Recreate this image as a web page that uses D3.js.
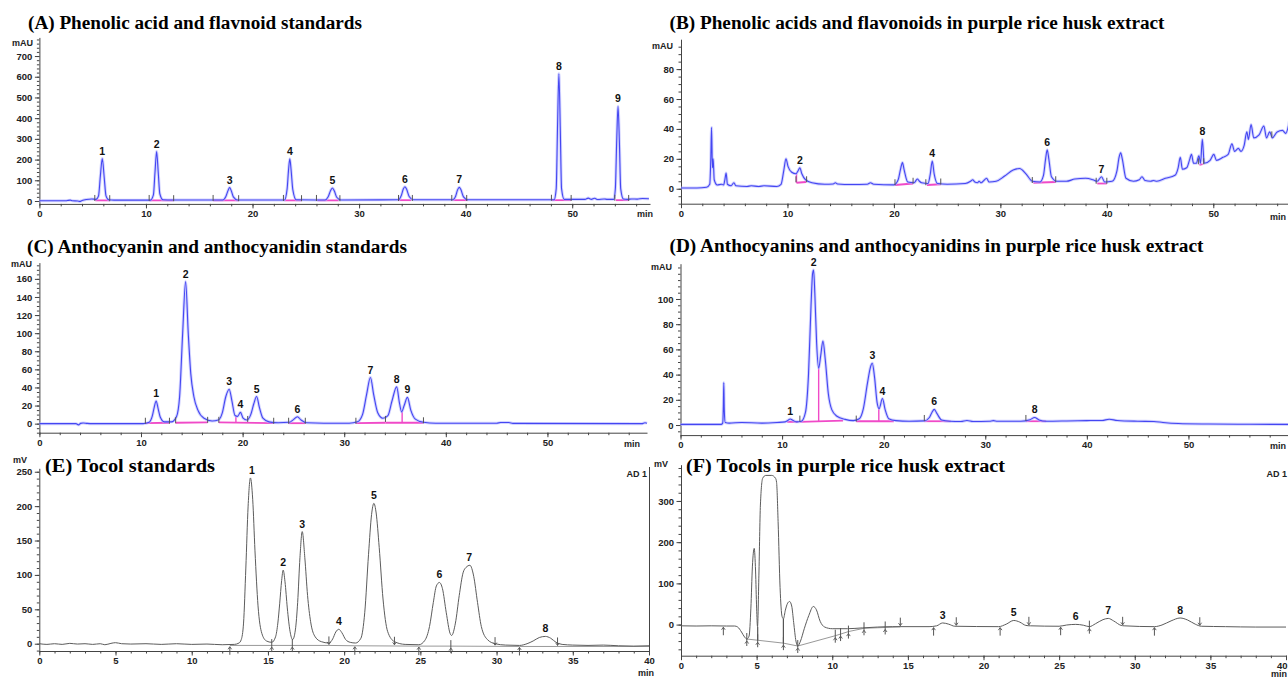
<!DOCTYPE html>
<html>
<head>
<meta charset="utf-8">
<script src="https://cdn.jsdelivr.net/npm/d3@7"></script>
<style>
  body { margin: 0; background: #fff; }
  svg text { font-family: "Liberation Sans", Arial, sans-serif; }
  .title { font-family: "Liberation Serif", "Times New Roman", serif; font-weight: bold; font-size: 18.5px; fill: #000; }
  .tick text { font-weight: bold; font-size: 9.5px; fill: #222; }
  .tick line, .domain { stroke: #444; }
  .unit { font-weight: bold; font-size: 9px; fill: #222; }
  .peak { font-weight: bold; font-size: 10.5px; fill: #111; text-anchor: middle; }
</style>
</head>
<body>
<svg id="chart" width="1288" height="677"></svg>
<script>
// ---- data: [minutes, signal] ----
const traceA = [
  [0,1],[2.5,1],[2.7,3],[2.9,4],[3.1,1],[3.6,0],[3.8,-2],[4.0,2],[4.4,7],[4.9,10],[5.3,8],[5.55,25],[5.72,120],[5.9,205],[6.08,115],[6.25,25],[6.5,6],[7,4],
  [10.4,4],[10.7,30],[10.85,140],[11.0,239],[11.15,140],[11.3,35],[11.6,6],[12.5,5],
  [17.2,5],[17.5,22],[17.7,50],[17.85,65],[18.0,50],[18.2,20],[18.6,5],
  [23.0,5],[23.25,60],[23.38,150],[23.5,204],[23.62,150],[23.78,55],[24.1,6],
  [26.8,5],[27.1,20],[27.32,50],[27.5,63],[27.68,48],[27.9,18],[28.3,5],
  [33.7,6],[33.95,25],[34.15,58],[34.3,69],[34.45,58],[34.7,22],[35.1,6],
  [38.8,6],[39.05,22],[39.25,55],[39.4,66],[39.55,55],[39.8,20],[40.2,6],
  [46.5,6],[48.3,6],[48.5,60],[48.62,350],[48.75,614],[48.88,350],[49.0,60],[49.25,8],
  [51.2,8],[51.5,14],[51.8,8],[52.1,13],[52.4,7],[53.0,10],[53.3,8],[53.9,8],[54.05,60],[54.17,280],[54.3,457],[54.43,280],[54.55,60],[54.8,10],[55.2,8],[55.6,10],[56.1,9],[56.6,12],[57.2,11]
];
const peaksA = [["1",5.9,205],["2",11.0,239],["3",17.85,65],["4",23.5,204],["5",27.5,63],["6",34.3,69],["7",39.4,66],["8",48.75,614],["9",54.3,457]];
const pinkA = [[5.25,3,6.6,3],[10.3,3,12.6,3],[16.3,3,18.7,3],[23.0,3,24.6,3],[26.1,3,28.1,3],[33.7,4,34.9,4],[38.8,4,40.2,4],[48.1,4,49.9,4],[54.1,4,55.3,4]];
const pinkVA = [];
const marksA = [[5.2,5],[6.6,4],[10.3,5],[12.6,4],[16.3,5],[18.7,4],[22.9,5],[24.6,4],[26.0,5],[28.2,4],[33.7,5],[35.0,5],[38.7,5],[40.1,5],[48.05,6],[49.9,5],[54.0,6],[55.3,5]];
const yTicksA = [0,100,200,300,400,500,600,700];
const xTicksA = [0,10,20,30,40,50];

const traceB = [
  [0,0.5],[1.5,0.5],[2.4,1],[2.7,3],[2.8,20],[2.87,41],[2.95,14],[3.02,20],[3.12,6],[3.4,2.5],[3.8,3],[4.0,2.5],[4.12,6],[4.24,10.5],[4.36,3],[4.7,2],[4.97,4],[5.15,2],
  [6.2,1.5],[6.6,2],[7.3,1.5],[7.8,2],[9.0,1.5],[9.4,3],[9.65,12],[9.86,20],[10.05,15],[10.4,11],[10.8,10],[11.0,12],[11.16,14],[11.35,10],[11.7,6],[12.3,4],
  [13.5,3],[14.3,3.2],[14.5,4],[14.7,3.2],[16,2.8],[17.5,3],[17.8,4],[18.1,3],[20.0,2.6],[20.4,6],[20.65,14],[20.8,17.5],[20.95,13],[21.3,4.5],[21.9,4],[22.2,6.5],[22.4,5],[22.6,4],
  [23.2,3.5],[23.42,10],[23.6,18.5],[23.78,10],[24.1,3.5],[25,3],[26.7,3.5],[27.2,5],[27.4,6],[27.6,4.5],[27.85,4],[28.0,5],[28.2,4],[28.45,5.5],[28.7,7],[28.95,4.5],
  [29.6,5],[30.4,8.5],[31.2,12.5],[31.8,13.5],[32.4,10],[33.0,5],[33.7,4.5],[34.05,9],[34.25,20],[34.4,26],[34.55,20],[34.8,8],[35.3,5],[36.2,5],[37.0,6.5],[38.0,7],[38.7,6],
  [39.1,5],[39.5,8],[39.8,4.5],[40.5,5],[40.95,12],[41.15,21],[41.3,24],[41.45,20],[41.8,7],[42.5,5],[43.05,6],[43.3,8],[43.6,5.5],[44.1,5],[44.4,5.5],[44.7,5],
  [45.5,7],[46.4,9],[46.7,14],[46.9,21],[47.1,13],[47.5,14],[47.8,20],[47.95,23],[48.15,17],[48.4,17],[48.65,22],[48.8,17],[48.97,33],[49.15,17],[49.7,19],[50.05,23],[50.3,19],
  [50.9,21],[51.4,23],[51.75,30],[52.0,25],[52.35,27],[52.6,25],[52.9,29],[53.15,38],[53.3,33],[53.55,43],[53.8,34],[54.3,36],[54.75,42],[55.0,34],[55.3,38],[55.55,34],[56.0,38],[56.5,39],[56.8,37],[57.2,47]
];
const peaksB = [["2",11.16,14],["4",23.6,18.5],["6",34.4,26],["7",39.5,8],["8",48.97,33]];
const pinkB = [[10.85,4,11.75,4.5],[20.1,2.5,21.8,3.5],[23.1,2.5,24.4,3],[33.1,4,35.2,4.5],[39.1,3.5,40.0,3.5],[48.7,16,49.0,16.5]];
const pinkVB = [[10.85,4,10]];
const marksB = [[10.8,5],[11.8,5],[20.1,3],[21.8,4],[23.0,3],[24.4,3.5],[33.0,4.5],[35.2,5],[39.0,4],[40.0,4],[48.6,17],[49.1,17],[55.5,35]];
const yTicksB = [0,20,40,60,80];
const xTicksB = [0,10,20,30,40,50];

const traceC = [
  [0,0],[3.6,0],[3.85,-1.3],[4.05,0.3],[4.3,0.8],[4.7,0.3],[5.2,0],[10.2,0],[10.8,1.5],[11.1,8],[11.3,18],[11.49,25],[11.68,17],[11.9,7],[12.3,2],[13.0,2],
  [13.5,8],[13.8,30],[14.1,100],[14.39,157],[14.65,100],[14.9,55],[15.2,30],[15.6,15],[16.2,6],[17.0,3],[17.6,4],[18.0,12],[18.35,30],[18.68,38],[18.95,25],[19.25,9],
  [19.5,8],[19.79,12.5],[20.05,6],[20.4,4],[20.8,10],[21.1,22],[21.38,30],[21.65,18],[22.0,6],[22.6,2],[23.5,1],[24.6,1.5],[25.0,4.5],[25.39,7.7],[25.75,4],[26.3,1],
  [28,0.5],[30.5,0.5],[31.3,2],[31.8,10],[32.2,32],[32.58,51],[32.9,32],[33.3,12],[33.8,6],[34.3,9],[34.7,25],[35.16,40.6],[35.45,22],[35.65,13],[35.9,20],[36.22,29],
  [36.55,15],[37.0,5],[37.8,1.5],[39,0.5],[45.0,0.5],[45.4,1.2],[46.2,1.2],[46.6,0.3],[59.3,0],[59.6,1],[59.8,0.5]
];
const peaksC = [["1",11.49,25],["2",14.39,157],["3",18.68,38],["4",19.79,12.5],["5",21.38,30],["6",25.39,7.7],["7",32.58,51],["8",35.16,40.6],["9",36.22,29]];
const pinkC = [[10.43,0.5,12.8,1],[13.41,1,16.56,1.5],[17.66,1.5,23.06,0.5],[24.53,0.5,26.17,0.5],[31.15,0.5,34.06,1],[34.06,1,37.8,1]];
const pinkVC = [[19.34,1.5,8],[35.7,1,13]];
const marksC = [[10.43,1],[12.8,1],[13.41,1.5],[16.56,2],[17.66,2],[20.5,3],[23.06,1],[24.53,1],[26.17,1],[31.15,1],[34.06,3],[37.8,1.5]];
const yTicksC = [0,20,40,60,80,100,120,140,160];
const xTicksC = [0,10,20,30,40,50];

const traceD = [
  [0,0.5],[4.0,0.5],[4.15,1.5],[4.22,15],[4.26,33.6],[4.31,12],[4.4,2],[4.8,1.5],[6,2],[8,1.5],[9.5,2],[10.3,2.5],[10.6,3.8],[10.8,4.8],[11.05,3.8],[11.4,2.5],[11.9,3],
  [12.3,10],[12.6,40],[12.85,95],[13.0,120],[13.1,123],[13.22,105],[13.4,65],[13.6,45],[13.8,55],[14.02,66.7],[14.25,52],[14.55,25],[14.9,12],[15.4,7],[16.2,4.5],[17.0,3.5],
  [17.6,5],[18.0,13],[18.4,33],[18.7,46],[18.88,49],[19.1,38],[19.35,18],[19.55,13],[19.88,21],[20.15,12],[20.5,5],[21.2,3.5],[22.5,3],[24.0,3.3],[24.5,6],[24.75,10],
  [24.98,12.4],[25.25,9],[25.7,4],[26.5,3],[27.6,2.8],[28.2,3.6],[28.8,2.8],[30.4,3],[30.8,3.5],[31.2,3],[33.5,3],[34.4,4.2],[34.86,6],[35.3,4],[36,3],[38,3.2],[40,3.5],
  [41.5,3.6],[42.2,4.6],[43.0,3.6],[45,3],[46.6,2.8],[47.5,2],[49,1.2],[52,0.8],[56,0.6],[59.8,0.5]
];
const peaksD = [["1",10.8,4.8],["2",13.1,123],["3",18.88,49],["4",19.88,21],["6",24.98,12.4],["8",34.86,6]];
const pinkD = [[10.5,2.5,11.6,2.5],[11.75,2.5,16.0,3.5],[17.3,3,21.0,3],[24.0,3,26.6,3],[34.0,3,36.0,3]];
const pinkVD = [[13.6,3,45],[19.52,3,13]];
const marksD = [[11.75,3.5],[17.3,3.5],[24.0,4],[34.0,4]];
const yTicksD = [0,20,40,60,80,100];
const xTicksD = [0,10,20,30,40,50];

const traceE = [
  [0,0],[0.5,-1],[1,0],[1.5,-1],[2,0.5],[2.5,-0.5],[3,0],[3.5,-1],[4,0],[4.3,-1.5],[4.7,0.5],[5.0,1.5],[5.4,0],[6,-0.5],[7,0],[8,-1],[9,0],[10,-1],[11,-0.5],[12,-1.5],[12.8,-1],
  [13.1,1],[13.25,6],[13.4,30],[13.55,110],[13.7,200],[13.85,241],[14.0,210],[14.15,135],[14.35,55],[14.6,15],[14.9,4],[15.25,2],
  [15.5,10],[15.65,30],[15.77,58],[15.9,92],[16.0,107],[16.12,90],[16.27,52],[16.45,18],[16.62,6],
  [16.8,20],[16.95,60],[17.1,125],[17.25,163],[17.42,125],[17.6,70],[17.8,32],[18.1,10],[18.5,3],[19.0,1],
  [19.25,7],[19.45,17],[19.65,21],[19.85,16],[20.1,6],[20.4,2],[20.75,1],
  [21.1,8],[21.35,45],[21.6,130],[21.8,188],[21.95,204],[22.1,190],[22.3,140],[22.55,65],[22.85,18],[23.3,3],[24.0,-1],[24.9,-1.5],
  [25.3,5],[25.6,25],[25.85,60],[26.05,84],[26.25,89],[26.45,80],[26.7,45],[26.95,15],[27.05,12],
  [27.3,30],[27.55,70],[27.8,103],[28.0,111],[28.25,114],[28.5,98],[28.75,60],[29.0,25],[29.4,6],[29.9,0],[30.6,-2],[31.5,-2.5],
  [32.0,0],[32.4,4],[32.8,9],[33.2,10.6],[33.55,8],[33.9,2],[34.3,-1],[35,-2],[36,-2.5],[37,-2],[38,-3],[39,-3.5],[40,-3]
];
const peaksE = [["1",13.95,241],["2",16.0,107],["3",17.25,163],["4",19.65,21],["5",21.95,204],["6",26.25,89],["7",28.2,114],["8",33.2,10.6]];
const baseE = [[12.5,-2.5],[19.0,-2.5],[20.7,-3],[24.9,-3.5],[27.0,-3.5],[31.5,-4],[40,-4]];
const dropE = [];
const marksE = [[12.5,-3,"u"],[15.25,-2,"b"],[16.6,-2,"b"],[19.0,-2.5,"d"],[20.7,-3,"u"],[23.3,-3,"d"],[24.9,-3.5,"u"],[27.0,-3.5,"b"],[29.9,-3.5,"d"],[31.5,-4,"u"],[34.0,-4,"d"]];
const yTicksE = [0,50,100,150,200,250];
const xTicksE = [0,5,10,15,20,25,30,35,40];

const traceF = [
  [0,-3],[1,-3.5],[2,-3],[3.0,-3.5],[3.55,-3.5],[3.75,-6],[4.0,-18],[4.2,-30],[4.35,-35],[4.5,-28],[4.62,40],[4.72,140],[4.84,185],[4.93,130],[5.0,40],[5.06,-5],
  [5.15,120],[5.25,290],[5.4,355],[5.6,362],[6.0,362],[6.25,355],[6.32,345],[6.42,250],[6.55,90],[6.68,20],[6.77,14],[6.9,35],[7.05,52],[7.18,56],[7.32,45],[7.45,5],
  [7.6,-40],[7.72,-52],[7.9,-40],[8.15,-10],[8.45,22],[8.75,44],[8.95,36],[9.2,8],[9.5,-6],[10,-10],[11,-10],[12,-8],[13,-6],[14,-5],[16.4,-5],[16.9,-3],[17.3,4],
  [17.7,1],[18.1,-4],[21.0,-5],[21.5,1],[22.0,10],[22.4,6],[22.8,-2],[23.1,-3],[25.0,-4],[25.5,-1],[26.1,0.5],[26.6,-1.5],[27.0,-5],[27.4,2],[27.9,12],[28.25,15],
  [28.6,9],[29.1,-2],[29.3,-3],[31.3,-5],[31.8,-1],[32.4,9],[33.0,16],[33.5,11],[34.0,1],[34.4,-4],[36,-5],[38,-6],[40,-6]
];
const peaksF = [["3",17.3,4],["5",22.0,10],["6",26.1,2],["7",28.25,15],["8",33.0,16]];
const baseF = [[4.35,-35],[5.07,-38],[6.77,-45],[7.72,-52],[10.2,-27],[10.55,-23],[11.07,-17],[12.1,-9],[13.5,-7],[14.5,-5.5]];
const dropF = [[5.07,-38,-5],[6.77,-45,14]];
const marksF = [[2.8,-4,"u"],[4.35,-35,"b"],[5.07,-38,"b"],[6.77,-45,"b"],[7.72,-52,"b"],[10.2,-27,"b"],[10.55,-23,"b"],[11.07,-17,"b"],[12.1,-9,"b"],[13.5,-7,"b"],
  [14.5,-5,"d"],[16.7,-5,"u"],[18.2,-4,"d"],[21.1,-5,"u"],[23.0,-3,"d"],[25.1,-4,"u"],[27.0,-5,"b"],[29.2,-3,"d"],[31.3,-5,"u"],[34.3,-4,"d"]];
const yTicksF = [0,100,200,300];
const xTicksF = [0,5,10,15,20,25,30,35,40];

// ---- drawing ----
const svg = d3.select("#chart");

function drawPanel(p) {
  const x = d3.scaleLinear().domain(p.xDom).range(p.xRange);
  const y = d3.scaleLinear().domain(p.yDom).range(p.yRange);
  const g = svg.append("g");
  const yb = p.yRange[0], xl = p.xRange[0];

  // axes: minor then major
  g.append("g").attr("transform", `translate(0,${yb})`)
    .call(d3.axisBottom(x).tickValues(p.xMinor).tickSize(2.5).tickFormat(""))
    .call(s => s.select(".domain").remove());
  const xa = g.append("g").attr("transform", `translate(0,${yb})`)
    .call(d3.axisBottom(x).tickValues(p.xTicks).tickSize(4.5).tickSizeOuter(0).tickPadding(2));
  if (p.lastEnd) {
    // keep the last tick label inside the picture
    xa.selectAll(".tick:last-of-type text").attr("text-anchor", "end").attr("dx", "0.1em");
  }
  g.append("g").attr("transform", `translate(${xl},0)`)
    .call(d3.axisLeft(y).tickValues(p.yMinor).tickSize(2.5).tickFormat(""))
    .call(s => s.select(".domain").remove());
  g.append("g").attr("transform", `translate(${xl},0)`)
    .call(d3.axisLeft(y).tickValues(p.yTicks).tickSize(4.5).tickSizeOuter(0).tickPadding(2.5));

  g.append("text").attr("class", "unit").attr("x", p.unit[0]).attr("y", p.unit[1])
    .attr("text-anchor", "end").attr("font-size", p.unitSize || 9).text(p.unitText);
  g.append("text").attr("class", "unit").attr("x", p.min[0]).attr("y", p.min[1])
    .attr("text-anchor", p.min[2] || "middle").attr("font-size", p.minSize || 9).text("min");

  const line = d3.line().x(d => x(d[0])).y(d => y(d[1])).curve(d3.curveMonotoneX);

  if (p.blue) {
    (p.pink || []).forEach(s => g.append("line")
      .attr("x1", x(s[0])).attr("y1", y(s[1])).attr("x2", x(s[2])).attr("y2", y(s[3]))
      .attr("stroke", "#f04ac8").attr("stroke-width", 1.8));
    (p.pinkV || []).forEach(s => g.append("line")
      .attr("x1", x(s[0])).attr("y1", y(s[1])).attr("x2", x(s[0])).attr("y2", y(s[2]))
      .attr("stroke", "#f04ac8").attr("stroke-width", 1.4));
    g.append("path").datum(p.trace).attr("d", line).attr("fill", "none")
      .attr("stroke", "#b4b6ff").attr("stroke-width", 3).attr("stroke-opacity", 0.6);
    g.append("path").datum(p.trace).attr("d", line).attr("fill", "none")
      .attr("stroke", "#4446f2").attr("stroke-width", 1.1);
    (p.marks || []).forEach(m => g.append("line")
      .attr("x1", x(m[0])).attr("x2", x(m[0])).attr("y1", y(m[1]) + 1).attr("y2", y(m[1]) - 5)
      .attr("stroke", "#555").attr("stroke-width", 1));
  } else {
    // grey detector trace with integration baseline and event arrows
    g.append("path").datum(p.base).attr("d", d3.line().x(d => x(d[0])).y(d => y(d[1])))
      .attr("fill", "none").attr("stroke", "#999").attr("stroke-width", 1);
    (p.drops || []).forEach(s => g.append("line")
      .attr("x1", x(s[0])).attr("x2", x(s[0])).attr("y1", y(s[1])).attr("y2", y(s[2]))
      .attr("stroke", "#555").attr("stroke-width", 1.2));
    g.append("path").datum(p.trace).attr("d", line).attr("fill", "none")
      .attr("stroke", "#5c5c5c").attr("stroke-width", 1);
    p.marks.forEach(m => {
      const mx = x(m[0]), my = y(m[1]);
      let a, b, head;
      if (m[2] === "u") { a = my + 1; b = my + 9; head = a; }
      else if (m[2] === "d") { a = my - 9; b = my - 1; head = b; }
      else { a = my - 6; b = my + 7; head = my + 2; }
      g.append("line").attr("x1", mx).attr("x2", mx).attr("y1", a).attr("y2", b)
        .attr("stroke", "#555").attr("stroke-width", 1);
      const dir = m[2] === "d" ? 1 : -1;
      g.append("path").attr("d", `M${mx - 1.8},${head - dir * 2.5}L${mx},${head}L${mx + 1.8},${head - dir * 2.5}`)
        .attr("fill", "none").attr("stroke", "#555").attr("stroke-width", 0.9);
    });
  }

  p.peaks.forEach(k => g.append("text").attr("class", "peak")
    .attr("x", x(k[1])).attr("y", y(k[2]) - 4).text(k[0]));

  g.append("text").attr("class", "title").attr("x", p.title[0]).attr("y", p.title[1])
    .attr("textLength", p.title[2]).attr("lengthAdjust", "spacingAndGlyphs").text(p.titleText);

  if (p.ad) {
    g.append("text").attr("class", "unit").attr("x", p.ad[0]).attr("y", p.ad[1])
      .attr("text-anchor", "end").attr("font-size", 8.5).text("AD 1");
  }
  return { x, y, g };
}

drawPanel({
  titleText: "(A) Phenolic acid and flavnoid standards", title: [28, 29, 334],
  xDom: [0, 57.3], xRange: [39.4, 650], yDom: [-14, 790], yRange: [203.9, 37.4],
  xTicks: xTicksA, xMinor: d3.range(0, 57, 2), yTicks: yTicksA, yMinor: d3.range(-0, 790, 20),
  unit: [33, 46], unitText: "mAU", min: [645, 217],
  blue: true, trace: traceA, peaks: peaksA, pink: pinkA, pinkV: pinkVA, marks: marksA
});
drawPanel({
  titleText: "(B) Phenolic acids and flavonoids in purple rice husk extract", title: [669.5, 28.5, 495],
  xDom: [0, 57.3], xRange: [681, 1291], yDom: [-10, 100], yRange: [203.7, 39.2],
  xTicks: xTicksB, xMinor: d3.range(0, 57, 2), yTicks: yTicksB, yMinor: d3.range(-10, 100, 5),
  unit: [673, 49], unitText: "mAU", min: [1286, 220, "end"],
  blue: true, trace: traceB, peaks: peaksB, pink: pinkB, pinkV: pinkVB, marks: marksB
});
drawPanel({
  titleText: "(C) Anthocyanin and anthocyanidin standards", title: [27, 253, 380],
  xDom: [0, 59.8], xRange: [39.4, 647], yDom: [-10, 178], yRange: [432.7, 262.6],
  xTicks: xTicksC, xMinor: d3.range(0, 59, 2), yTicks: yTicksC, yMinor: d3.range(-10, 178, 5),
  unit: [32, 267], unitText: "mAU", min: [632, 447],
  blue: true, trace: traceC, peaks: peaksC, pink: pinkC, pinkV: pinkVC, marks: marksC
});
drawPanel({
  titleText: "(D) Anthocyanins and anthocyanidins in purple rice husk extract", title: [669.5, 252, 534],
  xDom: [0, 59.8], xRange: [680.5, 1288], yDom: [-8, 128], yRange: [435.1, 263.7],
  xTicks: xTicksD, xMinor: d3.range(0, 59, 2), yTicks: yTicksD, yMinor: d3.range(-5, 128, 5),
  unit: [672, 270], unitText: "mAU", min: [1286, 449, "end"],
  blue: true, trace: traceD, peaks: peaksD, pink: pinkD, pinkV: pinkVD, marks: marksD
});
drawPanel({
  titleText: "(E) Tocol standards", title: [45, 471.5, 170],
  xDom: [0, 40], xRange: [39.3, 649], yDom: [-10.6, 255], yRange: [651, 468.3],
  xTicks: xTicksE, xMinor: d3.range(0, 40.5, 1), yTicks: yTicksE, yMinor: d3.range(-10, 255, 10),
  unit: [27, 463], unitText: "mV", unitSize: 7.5, min: [646, 676], minSize: 6.5,
  blue: false, trace: traceE, peaks: peaksE, base: baseE, drops: dropE, marks: marksE, ad: [647, 477]
});
// right frame line of panel E
svg.append("line").attr("x1", 649.5).attr("x2", 649.5).attr("y1", 467).attr("y2", 651)
  .attr("stroke", "#444").attr("stroke-width", 1);
drawPanel({
  titleText: "(F) Tocols in purple rice husk extract", title: [686, 471.5, 319],
  xDom: [0, 40], xRange: [681, 1286], yDom: [-75.5, 388], yRange: [655.7, 464.7],
  xTicks: xTicksF, xMinor: d3.range(0, 40.5, 1), yTicks: yTicksF, yMinor: d3.range(-60, 388, 20),
  unit: [668, 467], unitText: "mV", unitSize: 7.5, min: [1287, 676.5, "end"], minSize: 6.5, lastEnd: true,
  blue: false, trace: traceF, peaks: peaksF, base: baseF, drops: dropF, marks: marksF, ad: [1287, 477]
});
</script>
</body>
</html>
